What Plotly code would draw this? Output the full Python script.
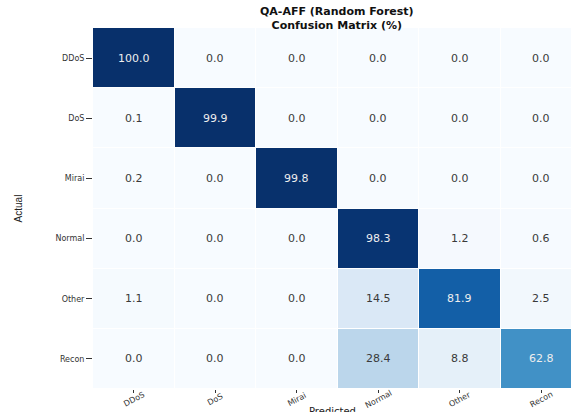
import plotly.graph_objects as go
from plotly.colors import sample_colorscale, unlabel_rgb

# Class labels (rows = actual, columns = predicted)
classes = ["DDoS", "DoS", "Mirai", "Normal", "Other", "Recon"]

# Row-normalised confusion matrix, in percent
cm_pct = [
    [100.0, 0.0, 0.0, 0.0, 0.0, 0.0],
    [0.1, 99.9, 0.0, 0.0, 0.0, 0.0],
    [0.2, 0.0, 99.8, 0.0, 0.0, 0.0],
    [0.0, 0.0, 0.0, 98.3, 1.2, 0.6],
    [1.1, 0.0, 0.0, 14.5, 81.9, 2.5],
    [0.0, 0.0, 0.0, 28.4, 8.8, 62.8],
]

FONT = "DejaVu Sans"
idx = list(range(len(classes)))

fig = go.Figure(
    go.Heatmap(
        z=cm_pct,
        x=idx,
        y=idx,
        zmin=0,
        zmax=100,
        colorscale="Blues",
        showscale=False,
        xgap=1,
        ygap=1,
        hovertemplate="Actual %{y}<br>Predicted %{x}<br>%{z:.1f}%<extra></extra>",
    )
)


def text_color(v):
    # light text on dark cells, dark text on light cells
    r, g, b = unlabel_rgb(sample_colorscale("Blues", [v / 100.0])[0])

    def lin(c):
        c = c / 255.0
        return c / 12.92 if c <= 0.03928 else ((c + 0.055) / 1.055) ** 2.4

    lum = 0.2126 * lin(r) + 0.7152 * lin(g) + 0.0722 * lin(b)
    return "#3a3a3a" if lum > 0.408 else "#eeeeee"


annotations = []
for i, row in enumerate(cm_pct):
    for j, v in enumerate(row):
        annotations.append(
            dict(
                x=j, y=i, xref="x", yref="y",
                text=f"{v:.1f}",
                showarrow=False,
                font=dict(family=FONT, size=11, color=text_color(v)),
            )
        )

# rotated predicted-class labels, centred under each column
for j, name in enumerate(classes):
    annotations.append(
        dict(
            x=j, xref="x", y=-0.028, yref="paper",
            text=name, textangle=-28, showarrow=False,
            xanchor="center", yanchor="middle",
            font=dict(family=FONT, size=8, color="#333333"),
        )
    )

# axis title under the rotated labels
annotations.append(
    dict(
        x=0.5, xref="paper", y=-0.041, yref="paper",
        text="Predicted", showarrow=False, yanchor="top",
        font=dict(family=FONT, size=10, color="#222222"),
    )
)

# two-line bold title centred over the matrix
annotations.append(
    dict(
        x=0.51, xref="paper", y=1.025, yref="paper",
        text="<b>QA-AFF (Random Forest)<br>Confusion Matrix (%)</b>",
        showarrow=False, xanchor="center", yanchor="middle",
        font=dict(family=FONT, size=11, color="#111111"),
    )
)

fig.update_layout(
    width=571,
    height=412,
    margin=dict(l=93, r=0, t=28, b=23),
    paper_bgcolor="white",
    plot_bgcolor="white",
    annotations=annotations,
    xaxis=dict(
        range=[-0.5, 5.365],
        tickvals=idx,
        ticktext=[""] * len(classes),
        ticks="outside",
        ticklen=3,
        tickcolor="#333333",
        showgrid=False,
        zeroline=False,
        showline=False,
    ),
    yaxis=dict(
        range=[5.5, -0.5],
        tickvals=idx,
        ticktext=classes,
        ticks="outside",
        ticklen=6,
        tickcolor="#333333",
        tickfont=dict(family=FONT, size=8, color="#333333"),
        showgrid=False,
        zeroline=False,
        showline=False,
        title=dict(
            text="Actual",
            font=dict(family="Liberation Sans Narrow, Liberation Sans", size=10, color="#222222"),
            standoff=30,
        ),
    ),
)

fig.write_html("out.html")
